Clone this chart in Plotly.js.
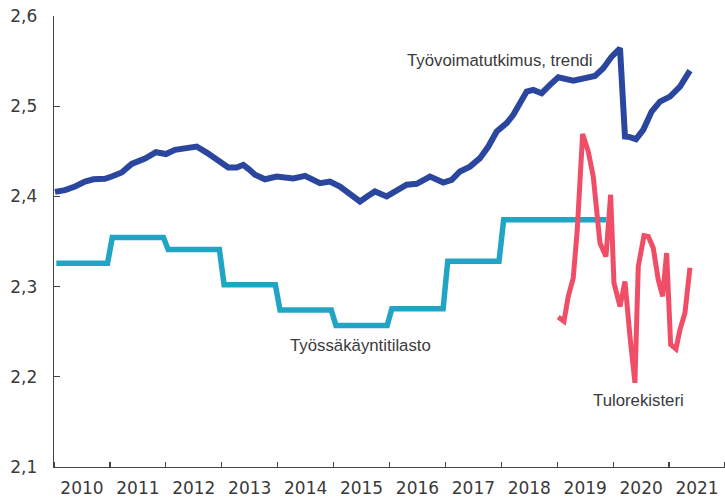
<!DOCTYPE html>
<html>
<head>
<meta charset="utf-8">
<script src="https://cdn.plot.ly/plotly-3.0.1.min.js"></script>
<style>html,body{margin:0;padding:0;background:#fff;}#chart{width:725px;height:499px;}</style>
</head>
<body>
<div id="chart"></div>
<script>
// Tick labels (years)
const yearLabels = ['2010','2011','2012','2013','2014','2015','2016','2017','2018','2019','2020','2021'];

// Työvoimatutkimus, trendi (decimal year, value)
const tvtX = [2010.018,2010.197,2010.376,2010.554,2010.703,2010.912,2011.032,2011.211,2011.389,2011.627,2011.824,2012.003,2012.164,2012.343,2012.552,2012.731,2012.910,2013.117,2013.267,2013.385,2013.487,2013.594,2013.773,2013.982,2014.279,2014.489,2014.757,2014.936,2015.114,2015.293,2015.472,2015.620,2015.740,2015.950,2016.128,2016.307,2016.486,2016.724,2016.962,2017.112,2017.260,2017.439,2017.618,2017.767,2017.917,2018.095,2018.214,2018.333,2018.453,2018.571,2018.721,2018.870,2019.018,2019.286,2019.526,2019.674,2019.823,2019.973,2020.122,2020.211,2020.300,2020.408,2020.538,2020.688,2020.837,2021.016,2021.195,2021.373];
const tvtY = [2.405,2.407,2.411,2.4165,2.419,2.4195,2.422,2.4265,2.436,2.442,2.449,2.447,2.4516,2.4535,2.4553,2.4486,2.441,2.432,2.432,2.435,2.430,2.424,2.419,2.422,2.420,2.4228,2.4147,2.4165,2.411,2.4018,2.3944,2.4007,2.4055,2.400,2.4073,2.4129,2.414,2.422,2.4154,2.4184,2.4276,2.433,2.4424,2.4553,2.4719,2.4812,2.4904,2.5033,2.5162,2.518,2.5144,2.5236,2.532,2.5284,2.532,2.5336,2.542,2.555,2.5642,2.4663,2.4657,2.4634,2.4738,2.494,2.505,2.5106,2.5217,2.5394];

// Työssäkäyntitilasto: annual values (monthly series, constant within a year)
const tkYears = [2010,2011,2012,2013,2014,2015,2016,2017,2018,2019];
const tkValues = [2.326,2.3545,2.341,2.302,2.274,2.257,2.2755,2.328,2.374,2.374];
const tkMonthsInYear = [12,12,12,12,12,12,12,12,12,11];

// Tulorekisteri (decimal year, value)
const trX = [2019.018,2019.120,2019.197,2019.286,2019.358,2019.454,2019.555,2019.644,2019.764,2019.871,2019.955,2020.014,2020.122,2020.211,2020.300,2020.389,2020.449,2020.551,2020.628,2020.717,2020.806,2020.885,2020.956,2021.028,2021.123,2021.195,2021.284,2021.373];
const trY = [2.2663,2.2615,2.2892,2.3095,2.363,2.4693,2.4497,2.422,2.3483,2.3334,2.4018,2.304,2.278,2.3058,2.2449,2.1933,2.3224,2.3564,2.3556,2.3428,2.3076,2.2892,2.3372,2.2357,2.2309,2.2523,2.2708,2.3209];

// build monthly step series
const tkX = [], tkY = [];
tkYears.forEach((yr, i) => {
  for (let m = 0; m < tkMonthsInYear[i]; m++) {
    tkX.push(yr + (m + 0.5) / 12);
    tkY.push(tkValues[i]);
  }
});

const textColor = '#3a3a3a';
const labelFont = {family: 'Liberation Sans, Arial, sans-serif', size: 16.8, color: textColor};

const traces = [
  {x: tkX, y: tkY, type: 'scatter', mode: 'lines', line: {color: 'rgb(34,165,196)', width: 5.5}, name: 'Työssäkäyntitilasto', hoverinfo: 'skip'},
  {x: trX, y: trY, type: 'scatter', mode: 'lines', line: {color: 'rgb(240,78,102)', width: 5}, name: 'Tulorekisteri', hoverinfo: 'skip'},
  {x: tvtX, y: tvtY, type: 'scatter', mode: 'lines', line: {color: 'rgb(43,70,158)', width: 6}, name: 'Työvoimatutkimus, trendi', hoverinfo: 'skip'}
];

const layout = {
  width: 725, height: 499,
  margin: {l: 54, r: 0, t: 16, b: 32},
  paper_bgcolor: '#fff', plot_bgcolor: '#fff',
  showlegend: false,
  separators: ', ',
  font: {family: 'DejaVu Sans, sans-serif', size: 17, color: textColor},
  xaxis: {
    range: [2010, 2022],
    showgrid: false, zeroline: false,
    showline: true, linecolor: '#444', linewidth: 1.3,
    tickmode: 'array',
    tickvals: yearLabels.map(y => Number(y) + 0.5),
    ticktext: yearLabels,
    ticks: '',
    ticklabelstandoff: 5,
    tickfont: {family: 'DejaVu Sans, sans-serif', size: 17, color: textColor},
    minor: {tickmode: 'linear', tick0: 2010, dtick: 1, ticks: 'inside', ticklen: 5, tickwidth: 1.3, tickcolor: '#444', showgrid: false}
  },
  yaxis: {
    range: [2.1, 2.6],
    dtick: 0.1, tick0: 2.1,
    tickformat: '.1f',
    showgrid: false, zeroline: false,
    showline: true, linecolor: '#444', linewidth: 1.3,
    ticks: 'inside', ticklen: 6, tickwidth: 1.3, tickcolor: '#444',
    ticklabelstandoff: 12,
    tickfont: {family: 'DejaVu Sans, sans-serif', size: 17, color: textColor}
  },
  annotations: [
    {x: 2017.976, y: 2.551, xref: 'x', yref: 'y', text: 'Työvoimatutkimus, trendi', showarrow: false, font: labelFont, xanchor: 'center', yanchor: 'middle'},
    {x: 2015.48, y: 2.235, xref: 'x', yref: 'y', text: 'Työssäkäyntitilasto', showarrow: false, font: labelFont, xanchor: 'center', yanchor: 'middle'},
    {x: 2020.45, y: 2.174, xref: 'x', yref: 'y', text: 'Tulorekisteri', showarrow: false, font: labelFont, xanchor: 'center', yanchor: 'middle'}
  ]
};

Plotly.newPlot('chart', traces, layout, {displayModeBar: false, staticPlot: true});
</script>
</body>
</html>
